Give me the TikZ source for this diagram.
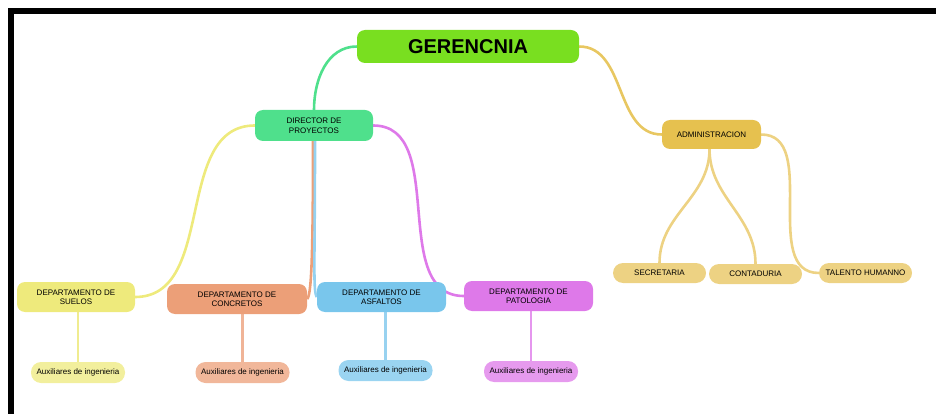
\documentclass[tikz,border=0pt]{standalone}
\usepackage{fontspec}
\setmainfont{Liberation Sans}
\usepackage{tikz}
\usetikzlibrary{backgrounds}

\definecolor{gerGreen}{HTML}{79DF20}
\definecolor{dirGreen}{HTML}{4FE08C}
\definecolor{admGold}{HTML}{E6C14F}
\definecolor{subGold}{HTML}{EDD283}
\definecolor{sueYellow}{HTML}{EEEA7C}
\definecolor{conSalmon}{HTML}{EC9F78}
\definecolor{asfBlue}{HTML}{79C6EC}
\definecolor{patViolet}{HTML}{DE79E9}
% colours of the auxiliary links
\definecolor{sue-line}{HTML}{F0EC90}
\definecolor{con-line}{HTML}{F0B497}
\definecolor{asf-line}{HTML}{98D2F0}
\definecolor{pat-line}{HTML}{E596EE}

\begin{document}
\begin{tikzpicture}[x=1pt, y=-1pt,
    every node/.style={font=\fontsize{8}{9.5}\selectfont, align=center, inner sep=0pt, rounded corners=8pt},
    box/.style={fill=#1, minimum height=30pt},
    pill/.style={fill=#1, minimum width=94pt, minimum height=21pt, rounded corners=10pt},
    link/.style={draw=#1, line width=2.6pt}]
        \useasboundingbox (0,0) rectangle (936,414);
        % frame
        \draw[line width=6pt] (11,414) -- (11,11) -- (936,11);

        % top levels
        \node[fill=gerGreen, minimum width=222pt, minimum height=33pt, font=\fontsize{20}{24}\selectfont\bfseries] (ger) at (468,46.5) {GERENCNIA};
        \node[box=dirGreen, minimum width=118pt, minimum height=31pt] (dir) at (314,125.5) {DIRECTOR DE\\PROYECTOS};
        \node[box=admGold, minimum width=99pt, minimum height=29pt] (adm) at (711.5,134.5) {ADMINISTRACION};

        % departments
        \node[box=sueYellow, minimum width=118pt] (sue) at (76,297) {DEPARTAMENTO DE\\SUELOS};
        \node[box=conSalmon, minimum width=140pt] (con) at (237,299) {DEPARTAMENTO DE\\CONCRETOS};
        \node[box=asfBlue, minimum width=129pt] (asf) at (381.5,297) {DEPARTAMENTO DE\\ASFALTOS};
        \node[box=patViolet, minimum width=129pt] (pat) at (528.5,296) {DEPARTAMENTO DE\\PATOLOGIA};

        % administration areas
        \node[pill=subGold, minimum width=93pt, minimum height=20pt] (sec) at (659.5,273) {SECRETARIA};
        \node[pill=subGold, minimum width=93pt, minimum height=20pt] (cont) at (755.5,274) {CONTADURIA};
        \node[pill=subGold, minimum width=93pt, minimum height=20pt] (tal) at (865.5,273) {TALENTO HUMANNO};

        % auxiliaries
        \node[pill=sueYellow!75] (sue-aux) at (78,372.5) {Auxiliares de ingenieria};
        \node[pill=conSalmon!75] (con-aux) at (242.5,372.5) {Auxiliares de ingenieria};
        \node[pill=asfBlue!75] (asf-aux) at (385.5,370.5) {Auxiliares de ingenieria};
        \node[pill=patViolet!75] (pat-aux) at (531,371.5) {Auxiliares de ingenieria};

        \begin{scope}[on background layer]
            \draw[link=dirGreen] (ger.west) to[out=180, in=90] (dir.north);
            \draw[link=admGold!90] (ger.east) to[out=0, in=180] (adm.west);
            \draw[link=sueYellow] (dir.west) to[out=180, in=0] (sue.east);
            \draw[link=conSalmon] ([xshift=-1pt]dir.south) .. controls +(0,120) and +(4,-4) .. (con.east);
            \draw[link=asfBlue!80] ([xshift=1pt]dir.south) .. controls +(0,120) and +(-4,-6) .. (asf.west);
            \draw[link=patViolet] (dir.east) to[out=0, in=180] (pat.west);
            \draw[link=subGold] ([xshift=-2pt]adm.south) to[out=-90, in=90] (sec.north);
            \draw[link=subGold] ([xshift=-2pt]adm.south) to[out=-90, in=90] (cont.north);
            \draw[link=subGold] (adm.east) to[out=0, in=180] (tal.west);
            \foreach \d in {sue,con,asf,pat} {
                \draw[link=\d-line] (\d-aux.north |- \d.south) -- (\d-aux.north);
            }
        \end{scope}
    \end{tikzpicture}
\end{document}
